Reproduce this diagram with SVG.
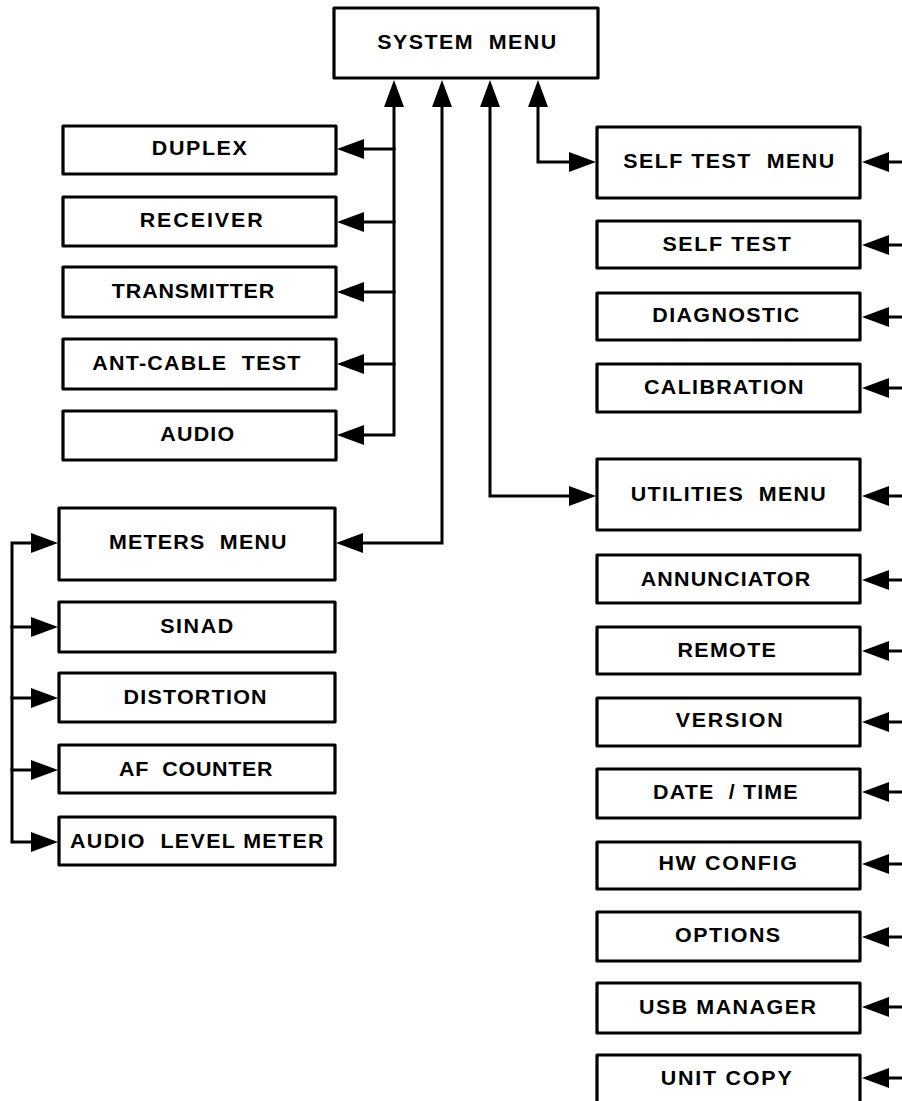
<svg xmlns="http://www.w3.org/2000/svg" width="902" height="1101" viewBox="0 0 902 1101">
<style>
rect{fill:#fff;stroke:#000;stroke-width:3.2;stroke-linejoin:round}
text{font-family:"Liberation Sans",Arial,sans-serif;font-weight:bold;font-size:19.5px;text-anchor:middle;fill:#000}
.c path{fill:none;stroke:#000;stroke-width:3;marker-end:url(#ah)}
.c path.b{marker-start:url(#ah)}
</style>
<defs>
<marker id="ah" markerUnits="userSpaceOnUse" markerWidth="28" markerHeight="22" viewBox="0 -11 28 22" refX="1" refY="0" orient="auto-start-reverse"><path d="M0,-10 L27,0 L0,10 z" fill="#000"/></marker>
</defs>
<g id="system-menu"><rect x="334" y="8" width="264" height="70"/><text transform="scale(1.1,1)" x="424.3" y="48.6" textLength="162.7" lengthAdjust="spacing" xml:space="preserve">SYSTEM  MENU</text></g>
<g id="duplex"><rect x="63" y="126" width="273" height="48"/><text transform="scale(1.1,1)" x="181.2" y="154.8" textLength="86.4" lengthAdjust="spacing">DUPLEX</text></g>
<g id="receiver"><rect x="63" y="197" width="273" height="49"/><text transform="scale(1.1,1)" x="182.9" y="227" textLength="111.8" lengthAdjust="spacing">RECEIVER</text></g>
<g id="transmitter"><rect x="63" y="267" width="273" height="50"/><text transform="scale(1.1,1)" x="175.5" y="298.3" textLength="147.7" lengthAdjust="spacing">TRANSMITTER</text></g>
<g id="ant-cable-test"><rect x="63" y="339" width="273" height="50"/><text transform="scale(1.1,1)" x="178.5" y="370" textLength="189.1" lengthAdjust="spacing" xml:space="preserve">ANT-CABLE  TEST</text></g>
<g id="audio"><rect x="63" y="411" width="273" height="49"/><text transform="scale(1.1,1)" x="179.3" y="441" textLength="67.3" lengthAdjust="spacing">AUDIO</text></g>
<g id="meters-menu"><rect x="59" y="508" width="276" height="72"/><text transform="scale(1.1,1)" x="179.8" y="548.6" textLength="161.4" lengthAdjust="spacing" xml:space="preserve">METERS  MENU</text></g>
<g id="sinad"><rect x="59" y="602" width="276" height="50"/><text transform="scale(1.1,1)" x="178.8" y="633" textLength="66.4" lengthAdjust="spacing">SINAD</text></g>
<g id="distortion"><rect x="59" y="673" width="276" height="49"/><text transform="scale(1.1,1)" x="177.3" y="704.3" textLength="130" lengthAdjust="spacing">DISTORTION</text></g>
<g id="af-counter"><rect x="59" y="745" width="276" height="48"/><text transform="scale(1.1,1)" x="178" y="775.6" textLength="139.5" lengthAdjust="spacing" xml:space="preserve">AF  COUNTER</text></g>
<g id="audio-level-meter"><rect x="59" y="817" width="276" height="48"/><text transform="scale(1.1,1)" x="178.9" y="848" textLength="230.5" lengthAdjust="spacing" xml:space="preserve">AUDIO  LEVEL METER</text></g>
<g id="self-test-menu"><rect x="597" y="127" width="263" height="71"/><text transform="scale(1.1,1)" x="662.5" y="168" textLength="191.8" lengthAdjust="spacing" xml:space="preserve">SELF TEST  MENU</text></g>
<g id="self-test"><rect x="597" y="221" width="263" height="47"/><text transform="scale(1.1,1)" x="660.6" y="250.8" textLength="116.8" lengthAdjust="spacing">SELF TEST</text></g>
<g id="diagnostic"><rect x="597" y="293" width="263" height="47"/><text transform="scale(1.1,1)" x="659.8" y="322" textLength="133.6" lengthAdjust="spacing">DIAGNOSTIC</text></g>
<g id="calibration"><rect x="597" y="364" width="263" height="48"/><text transform="scale(1.1,1)" x="658" y="394" textLength="145" lengthAdjust="spacing">CALIBRATION</text></g>
<g id="utilities-menu"><rect x="597" y="459" width="263" height="71"/><text transform="scale(1.1,1)" x="662.1" y="501.3" textLength="177.3" lengthAdjust="spacing" xml:space="preserve">UTILITIES  MENU</text></g>
<g id="annunciator"><rect x="597" y="555" width="263" height="48"/><text transform="scale(1.1,1)" x="659.5" y="585.6" textLength="154.1" lengthAdjust="spacing">ANNUNCIATOR</text></g>
<g id="remote"><rect x="597" y="627" width="263" height="47"/><text transform="scale(1.1,1)" x="660.6" y="656.6" textLength="89.5" lengthAdjust="spacing">REMOTE</text></g>
<g id="version"><rect x="597" y="698" width="263" height="48"/><text transform="scale(1.1,1)" x="662.9" y="727.3" textLength="97.3" lengthAdjust="spacing">VERSION</text></g>
<g id="date-time"><rect x="597" y="769" width="263" height="49"/><text transform="scale(1.1,1)" x="659.4" y="799" textLength="131.4" lengthAdjust="spacing" xml:space="preserve">DATE  / TIME</text></g>
<g id="hw-config"><rect x="597" y="842" width="263" height="47"/><text transform="scale(1.1,1)" x="661.5" y="870.5" textLength="125.9" lengthAdjust="spacing">HW CONFIG</text></g>
<g id="options"><rect x="597" y="912" width="263" height="49"/><text transform="scale(1.1,1)" x="661.5" y="942" textLength="95.5" lengthAdjust="spacing">OPTIONS</text></g>
<g id="usb-manager"><rect x="597" y="983" width="263" height="50"/><text transform="scale(1.1,1)" x="661.4" y="1013.8" textLength="160.9" lengthAdjust="spacing">USB MANAGER</text></g>
<g id="unit-copy"><rect x="597" y="1055" width="263" height="50"/><text transform="scale(1.1,1)" x="660.2" y="1084.8" textLength="119.1" lengthAdjust="spacing">UNIT COPY</text></g>
<g class="c" id="connectors">
<path class="b" d="M394,106 V435 H363"/>
<path d="M395.5,149 H363"/>
<path d="M395.5,222 H363"/>
<path d="M395.5,292 H363"/>
<path d="M395.5,364 H363"/>
<path class="b" d="M442,106 V543 H362"/>
<path class="b" d="M490,106 V496 H570"/>
<path class="b" d="M538,106 V162 H570"/>
<path class="b" d="M32,543 H12 V842 H32"/>
<path d="M10.5,627 H32"/>
<path d="M10.5,698 H32"/>
<path d="M10.5,770 H32"/>
<path d="M904,162 H888"/>
<path d="M904,245 H888"/>
<path d="M904,317 H888"/>
<path d="M904,388 H888"/>
<path d="M904,496 H888"/>
<path d="M904,580 H888"/>
<path d="M904,651 H888"/>
<path d="M904,722 H888"/>
<path d="M904,792 H888"/>
<path d="M904,864 H888"/>
<path d="M904,937 H888"/>
<path d="M904,1007 H888"/>
<path d="M904,1078 H888"/>
</g>
</svg>
